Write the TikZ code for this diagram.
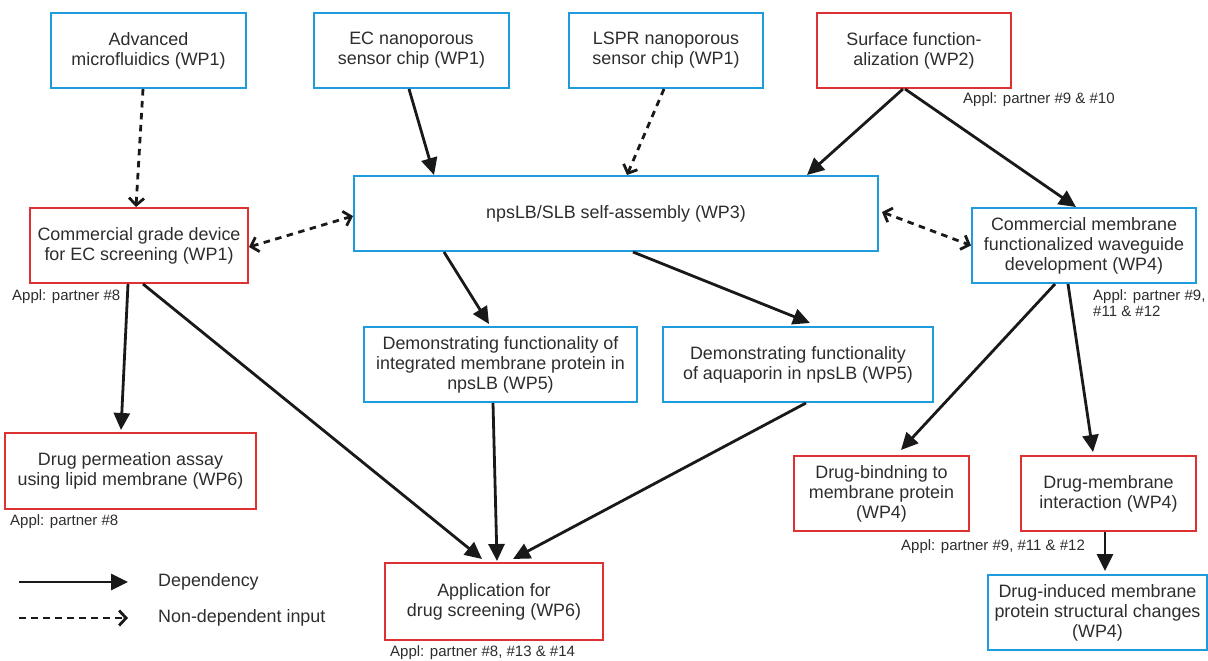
\documentclass[tikz,border=0pt]{standalone}
\usepackage{fontspec}
\setmainfont{Liberation Sans}
\usetikzlibrary{arrows.meta}
\definecolor{bblue}{RGB}{30,155,220}
\definecolor{bred}{RGB}{222,50,50}
\definecolor{txt}{RGB}{45,45,45}
\definecolor{arr}{RGB}{25,25,25}
\begin{document}
\begin{tikzpicture}[x=1pt,y=-1pt,
 box/.style={draw,line width=2pt,minimum height=75pt,inner sep=0pt,align=center,text=txt,font=\fontsize{17.9}{20}\selectfont},
 bluebox/.style={box,draw=bblue},
 redbox/.style={box,draw=bred},
 dep/.style={draw=arr,line width=2.8pt,-{Triangle[length=17pt,width=16pt]}},
 ndep/.style={draw=arr,line width=2.8pt,dash pattern=on 6.5pt off 5.5pt,-{Straight Barb[length=7pt,width=15pt]}},
 ndepb/.style={draw=arr,line width=2.8pt,dash pattern=on 6.5pt off 5.5pt,{Straight Barb[length=7pt,width=15pt]}-{Straight Barb[length=7pt,width=15pt]}},
 appl/.style={font=\fontsize{15}{16.5}\selectfont,text=txt,inner sep=0pt,anchor=west,align=left},
 legtext/.style={font=\fontsize{17.9}{20}\selectfont,text=txt,inner sep=0pt,anchor=west}
]
\useasboundingbox (0,0) rectangle (1208,661);

% nodes
\node[bluebox,minimum width=195pt] (adv) at (148.5,50.5) {Advanced\\microfluidics (WP1)};
\node[bluebox,minimum width=195pt] (ec) at (411.5,50.5) {EC nanoporous\\sensor chip (WP1)};
\node[bluebox,minimum width=194pt] (lspr) at (666,50.5) {LSPR nanoporous\\sensor chip (WP1)};
\node[redbox,minimum width=194pt] (surf) at (914,50.5) {Surface function-\\alization (WP2)};
\node[bluebox,minimum width=524pt] (nps) at (616,213.5) {npsLB/SLB self-assembly (WP3)};
\node[redbox,minimum width=218pt] (cgd) at (139,245.5) {Commercial grade device\\for EC screening (WP1)};
\node[bluebox,minimum width=224pt] (cmw) at (1084,245.5) {Commercial membrane\\functionalized waveguide\\development (WP4)};
\node[bluebox,minimum width=273pt] (dim) at (500.5,364.5) {Demonstrating functionality of\\integrated membrane protein in\\npsLB (WP5)};
\node[bluebox,minimum width=270pt] (daq) at (798,364.5) {Demonstrating functionality\\of aquaporin in npsLB (WP5)};
\node[redbox,minimum width=251pt,minimum height=76pt] (dpa) at (130.5,471) {Drug permeation assay\\using lipid membrane (WP6)};
\node[redbox,minimum width=218pt,minimum height=77pt] (app) at (494,601.5) {Application for\\drug screening (WP6)};
\node[redbox,minimum width=175pt] (dbm) at (881.5,493.5) {Drug-bindning to\\membrane protein\\(WP4)};
\node[redbox,minimum width=175pt] (dmi) at (1108.5,493.5) {Drug-membrane\\interaction (WP4)};
\node[bluebox,minimum width=219pt] (dis) at (1097.5,612.5) {Drug-induced membrane\\protein structural changes\\(WP4)};

% appl labels
\node[appl] (a1) at (963,100) {Appl: partner \#9 \& \#10};
\node[appl] (a2) at (12,297) {Appl: partner \#8};
\node[appl] (a3) at (1093,303) {Appl: partner \#9,\\\#11 \& \#12};
\node[appl] (a4) at (10,522) {Appl: partner \#8};
\node[appl] (a5) at (390,653) {Appl: partner \#8, \#13 \& \#14};
\node[appl] (a6) at (901,547) {Appl: partner \#9, \#11 \& \#12};

% connectors
\draw[ndep] ([xshift=-5.5pt]adv.south) -- ([xshift=-3pt]cgd.north);
\draw[dep] ([xshift=-2.5pt]ec.south) -- ([xshift=81pt]nps.north west);
\draw[ndep] ([xshift=-2pt]lspr.south) -- ([xshift=11pt]nps.north);
\draw[dep] ([xshift=-11pt]surf.south) -- ([xshift=-72pt]nps.north east);
\draw[dep] ([xshift=-9pt]surf.south) -- ([xshift=-8pt]cmw.north);
\draw[ndepb] ([yshift=-1.5pt]cgd.east) -- ([yshift=-2.5pt]nps.west);
\draw[ndepb] ([xshift=3pt,yshift=1.5pt]nps.east) -- (cmw.west);
\draw[dep] ([xshift=91pt]nps.south west) -- ([xshift=-11.5pt,yshift=2pt]dim.north);
\draw[dep] ([xshift=17pt]nps.south) -- ([xshift=12pt,yshift=3pt]daq.north);
\draw[dep] ([xshift=-11pt]cgd.south) -- ([xshift=-9.5pt,yshift=2pt]dpa.north);
\draw[dep] ([xshift=4pt]cgd.south) -- ([xshift=-12pt,yshift=3pt]app.north);
\draw[dep] ([xshift=-7.5pt]dim.south) -- ([xshift=3pt,yshift=1pt]app.north);
\draw[dep] ([xshift=8pt]daq.south) -- ([xshift=19pt,yshift=3pt]app.north);
\draw[dep] ([xshift=-29pt]cmw.south) -- ([xshift=19.5pt,yshift=5pt]dbm.north);
\draw[dep] ([xshift=-16pt]cmw.south) -- ([xshift=-15.5pt,yshift=3pt]dmi.north);
\draw[dep] ([xshift=-3.5pt]dmi.south) -- ([xshift=7.5pt,yshift=3pt]dis.north);

% legend
\coordinate (l1a) at (19,582);
\coordinate (l1b) at (128,582);
\coordinate (l2a) at (19,618);
\coordinate (l2b) at (128,618);
\draw[dep] (l1a) -- (l1b);
\draw[ndep] (l2a) -- (l2b);
\node[legtext] (lt1) at (158,582) {Dependency};
\node[legtext] (lt2) at (158,618) {Non-dependent input};
\end{tikzpicture}
\end{document}
